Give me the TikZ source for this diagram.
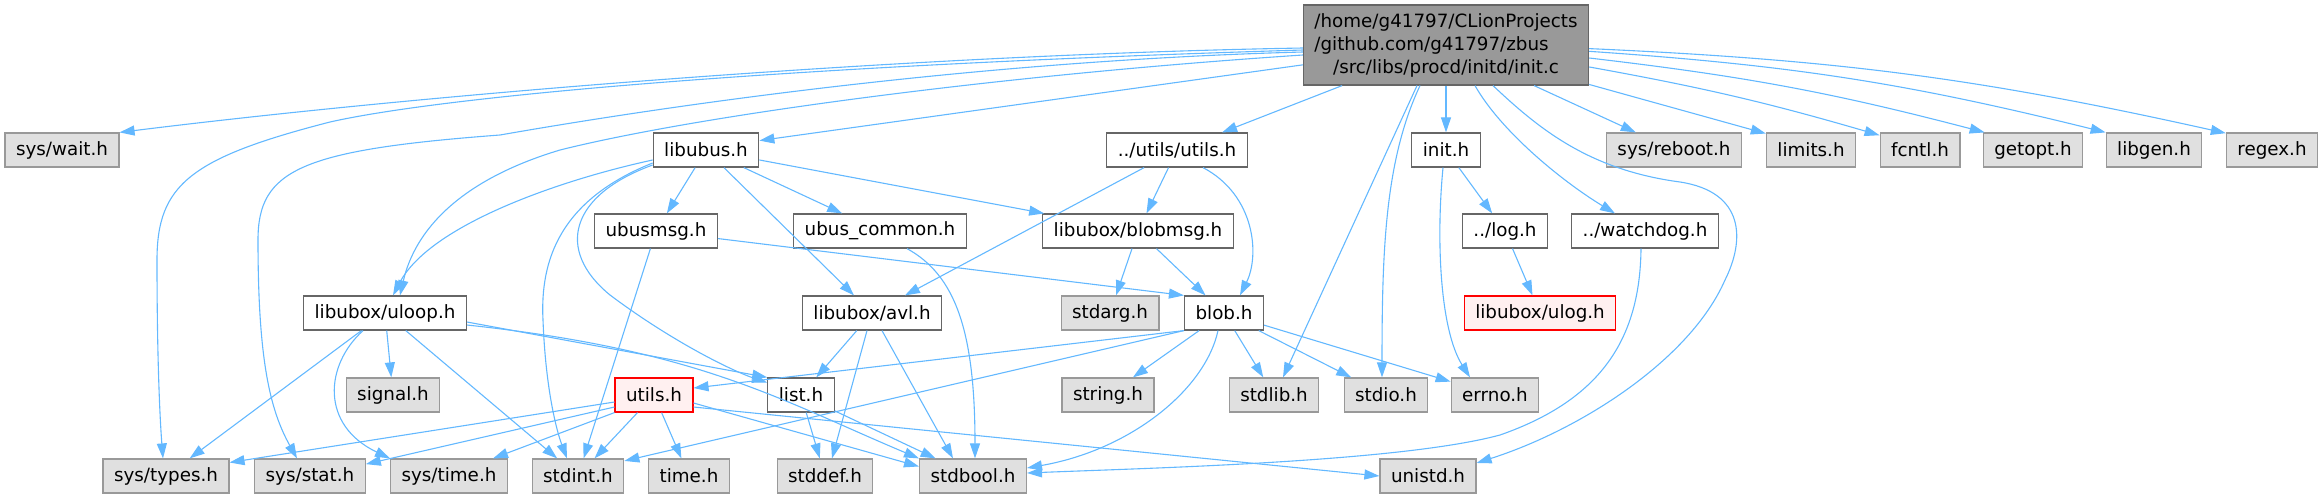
\documentclass[tikz,border=0pt]{standalone}
\usepackage{fontspec}
\setmainfont{DejaVu Sans}
\usepackage{calc}
\usetikzlibrary{arrows.meta}

\definecolor{edgeblue}{HTML}{63B8FF}
\definecolor{extfill}{HTML}{E0E0E0}
\definecolor{extdraw}{HTML}{999999}
\definecolor{docdraw}{HTML}{666666}
\definecolor{trunfill}{HTML}{FFF0F0}
\definecolor{trundraw}{HTML}{FF0000}

\begin{document}
\begin{tikzpicture}[
  x=1pt,y=-1pt,
  >={Triangle[length=15pt,width=10pt]},
  font=\fontsize{18.3}{23}\selectfont,
  hdr/.style={draw, line width=1.2pt, minimum height=34pt, inner xsep=11pt, inner ysep=3pt},
  sys/.style={hdr, fill=extfill, draw=extdraw},
  doc/.style={hdr, fill=white, draw=docdraw},
  trunc/.style={hdr, fill=trunfill, draw=trundraw},
  root/.style={hdr, fill=extdraw, draw=docdraw, minimum height=80pt, align=center},
  dep/.style={->, edgeblue, line width=1.1pt}
]
\useasboundingbox (0,0) rectangle (2323,499);

% the file itself
\node[root] (main) at (1446,45) {/home/g41797/CLionProjects\\
  \makebox[\widthof{/home/g41797/CLionProjects}][l]{/github.com/g41797/zbus}\\
  /src/libs/procd/initd/init.c};

% direct includes
\node[sys] (syswait) at (62,150) {sys/wait.h};
\node[doc] (libubus) at (706,150) {libubus.h};
\node[doc] (utilsutils) at (1177,150) {../utils/utils.h};
\node[doc] (inith) at (1446,150) {init.h};
\node[sys] (sysreboot) at (1674,150) {sys/reboot.h};
\node[sys] (limits) at (1811,150) {limits.h};
\node[sys] (fcntl) at (1920,150) {fcntl.h};
\node[sys] (getopt) at (2033,150) {getopt.h};
\node[sys] (libgen) at (2154,150) {libgen.h};
\node[sys] (regex) at (2272,150) {regex.h};

\node[doc] (ubusmsg) at (656,231) {ubusmsg.h};
\node[doc] (ubuscommon) at (880,231) {ubus\_common.h};
\node[doc] (blobmsg) at (1138,231) {libubox/blobmsg.h};
\node[doc] (logh) at (1505,231) {../log.h};
\node[doc] (watchdog) at (1645,231) {../watchdog.h};

\node[doc] (uloop) at (385,313) {libubox/uloop.h};
\node[doc] (avl) at (872,313) {libubox/avl.h};
\node[sys] (stdarg) at (1110,313) {stdarg.h};
\node[doc] (blob) at (1224,313) {blob.h};
\node[trunc] (ulog) at (1540,313) {libubox/ulog.h};

\node[sys] (signal) at (393,395) {signal.h};
\node[trunc] (utilsh) at (654,395) {utils.h};
\node[doc] (listh) at (801,395) {list.h};
\node[sys] (string) at (1108,395) {string.h};
\node[sys] (stdlib) at (1274,395) {stdlib.h};
\node[sys] (stdio) at (1386,395) {stdio.h};
\node[sys] (errno) at (1495,395) {errno.h};

\node[sys] (systypes) at (166,476) {sys/types.h};
\node[sys] (sysstat) at (310,476) {sys/stat.h};
\node[sys] (systime) at (449,476) {sys/time.h};
\node[sys] (stdint) at (578,476) {stdint.h};
\node[sys] (timeh) at (689,476) {time.h};
\node[sys] (stddef) at (825,476) {stddef.h};
\node[sys] (stdbool) at (973,476) {stdbool.h};
\node[sys] (unistd) at (1428,476) {unistd.h};

% edges out of init.c
\draw[dep] ([yshift=-3pt]main.west) .. controls (900,55) and (420,95) .. (syswait.north east);
\draw[dep] ([yshift=-5pt]main.west) .. controls (800,65) and (450,95) .. (330,122)
  .. controls (190,158) and (157,185) .. (157,260) .. controls (157,360) and (160,420) .. ([xshift=-3pt]systypes.north);
\draw[dep] ([yshift=-7pt]main.west) .. controls (1000,60) and (700,100) .. (500,135)
  .. controls (300,150) and (258,170) .. (258,240) .. controls (258,360) and (270,410) .. ([xshift=-13pt]sysstat.north);
\draw[dep] (main) -- (libubus.10);
\draw[dep] ([yshift=-10pt]main.west) .. controls (1000,75) and (700,115) .. (560,150)
  .. controls (460,180) and (415,230) .. ([xshift=15pt]uloop.north);
\draw[dep] (main) -- (utilsutils);
\draw[dep] ([xshift=-29pt]main.south) -- ([xshift=9pt]stdlib.north);
\draw[dep] ([xshift=-26pt]main.south) .. controls (1385,160) and (1382,250) .. ([xshift=-4pt]stdio.north);
\draw[dep] (main) -- (inith);
\draw[dep] ([xshift=47pt]main.south) .. controls (1540,130) and (1590,170) .. (1680,182)
  .. controls (1745,192) and (1745,240) .. (1725,280) .. controls (1690,360) and (1580,430) .. (unistd.15);
\draw[dep] ([xshift=29pt]main.south) .. controls (1500,130) and (1560,180) .. ([xshift=-30pt]watchdog.north);
\draw[dep] (main) -- (sysreboot);
\draw[dep] (main) -- (limits.160);
\draw[dep] (main) to[bend left=3] (fcntl.160);
\draw[dep] (main) to[bend left=4] (getopt.160);
\draw[dep] (main) to[bend left=5] (libgen.160);
\draw[dep] (main) to[bend left=5] (regex.160);

% second level
\draw[dep] ([yshift=-10pt]libubus.west) .. controls (560,180) and (430,225) .. ([xshift=8pt]uloop.north);
\draw[dep] (libubus) -- (ubusmsg);
\draw[dep] ([yshift=-13pt]libubus.west) .. controls (560,200) and (540,260) .. (543,320)
  .. controls (546,400) and (560,440) .. ([xshift=-11pt]stdint.north);
\draw[dep] ([yshift=-15pt]libubus.west) .. controls (570,195) and (555,250) .. (610,295)
  .. controls (670,340) and (730,370) .. (listh.160);
\draw[dep] (libubus) -- (avl);
\draw[dep] (libubus) -- (ubuscommon);
\draw[dep] (libubus) -- (blobmsg);
\draw[dep] (utilsutils) -- (avl);
\draw[dep] (utilsutils) -- (blobmsg);
\draw[dep] ([xshift=26pt]utilsutils.south) .. controls (1255,195) and (1260,255) .. ([xshift=16pt]blob.north);
\draw[dep] (inith) -- (logh);
\draw[dep] ([xshift=-3pt]inith.south) .. controls (1436,240) and (1440,330) .. ([xshift=-25pt]errno.north);

% third level
\draw[dep] (ubusmsg) -- (stdint);
\draw[dep] (ubusmsg) -- (blob.north west);
\draw[dep] ([xshift=27pt]ubuscommon.south) .. controls (955,275) and (975,330) .. ([xshift=2pt]stdbool.north);
\draw[dep] (blobmsg) -- (stdarg);
\draw[dep] (blobmsg) -- (blob);
\draw[dep] (logh) -- (ulog);
\draw[dep] ([xshift=-4pt]watchdog.south) .. controls (1640,340) and (1600,400) .. (1500,435)
  .. controls (1400,462) and (1150,468) .. ([yshift=3pt]stdbool.east);

% fourth level
\draw[dep] (uloop) -- (systypes);
\draw[dep] ([xshift=-22pt]uloop.south) .. controls (325,365) and (320,425) .. (systime.north west);
\draw[dep] (uloop) -- (signal);
\draw[dep] (uloop) -- (stdint);
\draw[dep] ([yshift=-9pt]uloop.east) -- (listh.north west);
\draw[dep] ([yshift=-12pt]uloop.east) .. controls (700,350) and (780,400) .. (stdbool.north west);
\draw[dep] (avl) -- (listh);
\draw[dep] ([xshift=-5pt]avl.south) -- ([xshift=7pt]stddef.north);
\draw[dep] ([xshift=10pt]avl.south) -- ([xshift=-20pt]stdbool.north);
\draw[dep] (blob.south west) -- (utilsh.10);
\draw[dep] (blob.south west) -- (stdint.18);
\draw[dep] (blob) -- (string);
\draw[dep] ([xshift=-6pt]blob.south) .. controls (1205,390) and (1130,450) .. ([yshift=8pt]stdbool.east);
\draw[dep] (blob) -- (stdlib);
\draw[dep] (blob) -- (stdio);
\draw[dep] (blob) -- (errno);

% bottom level
\draw[dep] ([yshift=-7pt]utilsh.west) -- (systypes.12);
\draw[dep] ([yshift=-12pt]utilsh.west) -- (sysstat.12);
\draw[dep] (utilsh.south west) -- ([xshift=-15pt]systime.north east);
\draw[dep] (utilsh) -- (stdint);
\draw[dep] (utilsh) -- (timeh);
\draw[dep] ([yshift=-8pt]utilsh.east) -- (stdbool.170);
\draw[dep] ([yshift=-12pt]utilsh.east) -- (unistd.west);
\draw[dep] (listh) -- (stddef);
\draw[dep] (listh) -- (stdbool);
\end{tikzpicture}
\end{document}
